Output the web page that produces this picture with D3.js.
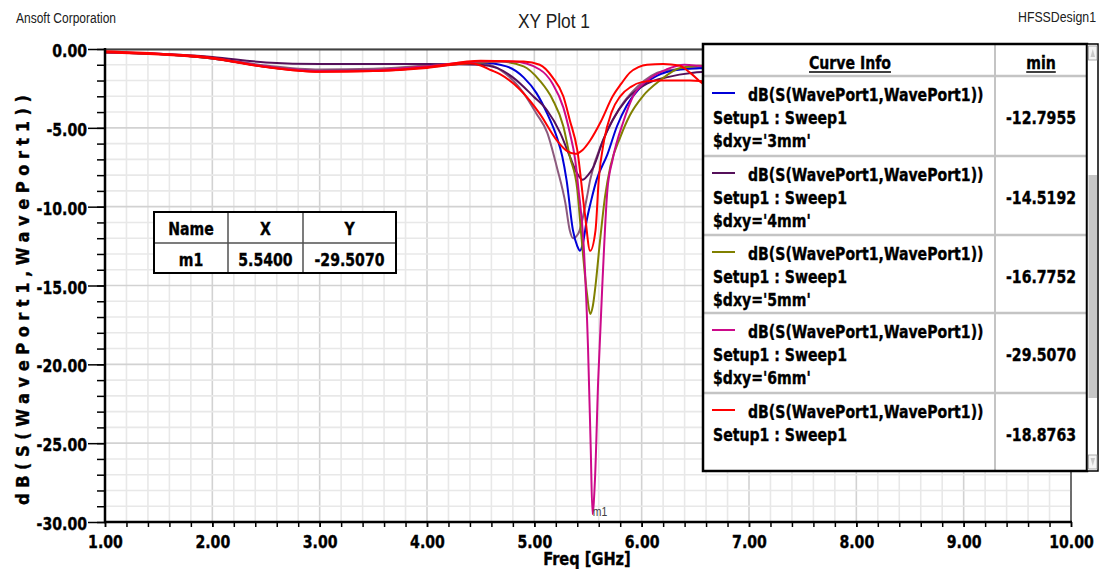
<!DOCTYPE html>
<html><head><meta charset="utf-8">
<script src="https://cdn.jsdelivr.net/npm/d3@7"></script>
<style>body{margin:0;background:#fff}svg{display:block}</style>
</head><body>
<svg id="c" width="1099" height="569"></svg>
<script>
// ---------- data ----------
const freqBlue = [1.0,1.5,2.0,2.5,3.0,3.5,4.0,4.5,4.74,4.9,5.02,5.12,5.21,5.26,5.30,5.36,5.40,5.425,5.45,5.49,5.53,5.58,5.68,5.77,5.86,5.98,6.14,6.36,6.6,7.0,8.0,9.0,10.0];
const dbBlue   = [-0.2,-0.32,-0.6,-1.12,-1.4,-1.35,-1.15,-0.85,-1.1,-1.8,-2.8,-4.1,-5.6,-6.8,-8.3,-11.5,-12.5,-12.8,-12.4,-10.8,-9.6,-8.3,-6.7,-4.9,-3.6,-2.5,-1.7,-1.3,-1.2,-1.1,-1.0,-1.0,-1.0];

const freqPurple = [1.0,1.5,2.0,2.5,3.0,3.5,4.0,4.5,4.65,4.8,4.99,5.12,5.24,5.33,5.40,5.45,5.50,5.55,5.64,5.73,5.86,6.05,6.23,6.48,6.6,7.0,8.0,10.0];
const dbPurple   = [-0.2,-0.3,-0.5,-0.85,-0.95,-0.95,-0.95,-1.0,-1.2,-1.8,-3.0,-3.9,-5.3,-6.8,-7.9,-8.3,-8.0,-7.5,-5.8,-4.5,-3.2,-2.2,-1.8,-1.5,-1.45,-1.3,-1.2,-1.2];

const freqMauve = [1.0,1.5,2.0,2.5,3.0,3.5,4.0,4.5,4.7,4.9,5.02,5.12,5.21,5.29,5.33,5.36,5.41,5.49,5.52,5.64,5.80,5.96,6.2,6.54,7.0,10.0];
const dbMauve   = [-0.2,-0.32,-0.58,-1.05,-1.3,-1.25,-1.05,-0.9,-1.4,-2.8,-4.1,-5.3,-7.5,-9.8,-11.5,-12.0,-11.7,-9.4,-8.3,-5.8,-3.7,-2.4,-1.4,-1.2,-1.1,-1.0];

const freqOlive = [1.0,1.5,2.0,2.5,3.0,3.5,4.0,4.5,4.68,4.9,5.05,5.17,5.27,5.33,5.40,5.44,5.49,5.52,5.545,5.57,5.61,5.66,5.71,5.80,5.89,6.01,6.17,6.36,6.6,7.0,10.0];
const dbOlive   = [-0.2,-0.32,-0.6,-1.1,-1.4,-1.35,-1.1,-0.85,-0.8,-1.1,-2.0,-3.2,-4.9,-6.8,-8.9,-12.0,-15.5,-16.8,-16.3,-15.0,-12.3,-9.3,-7.4,-5.6,-4.2,-3.0,-2.0,-1.2,-1.05,-1.0,-0.9];

const freqMagenta = [1.0,1.5,2.0,2.5,3.0,3.5,4.0,4.5,4.8,5.05,5.17,5.27,5.33,5.38,5.41,5.46,5.50,5.525,5.542,5.565,5.595,5.636,5.68,5.73,5.83,5.92,6.05,6.23,6.4,6.6,7.0,10.0];
const dbMagenta   = [-0.2,-0.3,-0.58,-1.1,-1.4,-1.35,-1.1,-0.8,-0.8,-1.3,-2.2,-3.7,-5.3,-7.0,-8.8,-12.5,-18.9,-25.2,-29.5,-27.3,-21.0,-14.6,-9.0,-7.0,-4.6,-3.0,-2.0,-1.3,-1.0,-1.1,-1.05,-1.0];

const freqRedA = [1.0,1.5,2.0,2.5,3.0,3.5,4.0,4.5,4.9,5.05,5.17,5.27,5.33,5.40,5.47,5.52,5.57,5.60,5.65,5.72,5.80,5.90,6.0,6.15,6.45,6.6,7.0,10.0];
const dbRedA   = [-0.15,-0.3,-0.55,-1.15,-1.45,-1.4,-1.15,-0.75,-0.8,-1.0,-1.8,-3.0,-4.5,-6.4,-10.4,-12.8,-11.5,-8.3,-5.8,-4.0,-3.0,-2.4,-2.1,-2.0,-2.0,-2.05,-2.1,-2.0];

const freqRedB = [1.0,1.5,2.0,2.5,3.0,3.5,4.0,4.4,4.5,4.6,4.68,4.87,5.05,5.21,5.30,5.38,5.45,5.52,5.62,5.73,5.81,5.89,5.97,6.05,6.2,6.35,6.45,6.57,6.7,7.0,10.0];
const dbRedB   = [-0.2,-0.35,-0.6,-1.15,-1.45,-1.4,-1.2,-0.9,-1.05,-1.35,-1.6,-2.6,-4.1,-5.8,-6.45,-6.65,-6.4,-5.8,-4.6,-3.0,-2.2,-1.5,-1.15,-1.0,-0.95,-1.05,-1.5,-2.2,-2.6,-2.8,-2.5];

const xTicks = [1,2,3,4,5,6,7,8,9,10];
const yTicks = [0,-5,-10,-15,-20,-25,-30];

const legendTrace = "dB(S(WavePort1,WavePort1))";
const legendSetup = "Setup1 : Sweep1";
const legendVars  = ["$dxy='3mm'","$dxy='4mm'","$dxy='5mm'","$dxy='6mm'",""];
const legendMins  = ["-12.7955","-14.5192","-16.7752","-29.5070","-18.8763"];

const markerHeader = ["Name","X","Y"];
const markerRow    = ["m1","5.5400","-29.5070"];
const markerFreq = 5.54, markerDb = -29.507;

// ---------- styles ----------
const curves = [
  {f:freqMauve, v:dbMauve, color:"#8c5a7e"},
  {f:freqBlue, v:dbBlue, color:"#0000d8"},
  {f:freqPurple, v:dbPurple, color:"#55105a"},
  {f:freqOlive, v:dbOlive, color:"#808000"},
  {f:freqMagenta, v:dbMagenta, color:"#cc0a8a"},
  {f:freqRedA, v:dbRedA, color:"#ff0000"},
  {f:freqRedB, v:dbRedB, color:"#ff0000"}
];
const legendColors = ["#0000d8","#55105a","#808000","#cc0a8a","#ff0000"];

const BOLD = "'DejaVu Sans Condensed','DejaVu Sans',sans-serif";
const SQ = 0.87;
function squeeze(sel,k){
  sel.each(function(){
    const w=this.getComputedTextLength();
    this.setAttribute("textLength",(w*k).toFixed(2));
    this.setAttribute("lengthAdjust","spacingAndGlyphs");
  });
}
function heavy(sel){ sel.attr("stroke","#000").attr("stroke-width",0.35).attr("fill","#000"); }

const svg = d3.select("#c");
const L=105,R=1071,T=49,B=522;
const x = d3.scaleLinear().domain([1,10]).range([L,R]);
const y = d3.scaleLinear().domain([-30,0]).range([B,T]);

// grid
const minorX = d3.range(1,10.0001,0.2), minorY = d3.range(-30,0.0001,1);
const g = svg.append("g");
g.selectAll(".mx").data(minorX).enter().append("line")
  .attr("x1",d=>x(d)).attr("x2",d=>x(d)).attr("y1",T).attr("y2",B)
  .attr("stroke",d=>Math.abs(d-Math.round(d))<1e-6?"#d2d2d2":"#e8e8e8").attr("stroke-width",1.6);
g.selectAll(".my").data(minorY).enter().append("line")
  .attr("y1",d=>y(d)).attr("y2",d=>y(d)).attr("x1",L).attr("x2",R)
  .attr("stroke",d=>Math.round(d)%5===0?"#d2d2d2":"#e8e8e8").attr("stroke-width",1.6);

// frame top/right
svg.append("line").attr("x1",L).attr("x2",R).attr("y1",T+0.5).attr("y2",T+0.5).attr("stroke","#404040").attr("stroke-width",2);
svg.append("line").attr("x1",R).attr("x2",R).attr("y1",T).attr("y2",B).attr("stroke","#000").attr("stroke-width",1);

// curves
svg.append("clipPath").attr("id","pc").append("rect").attr("x",L).attr("y",T).attr("width",R-L).attr("height",B-T+4);
const line = d3.line().x(d=>x(d[0])).y(d=>y(d[1])).curve(d3.curveMonotoneX);
const cg = svg.append("g").attr("clip-path","url(#pc)");
curves.forEach(c=>{
  cg.append("path").datum(c.f.map((f,i)=>[f,c.v[i]]))
    .attr("d",line).attr("fill","none").attr("stroke",c.color).attr("stroke-width",2).attr("stroke-linejoin","round");
});

// marker label
svg.append("text").attr("x",x(markerFreq)+0.5).attr("y",y(markerDb)+1.5)
  .attr("font-family","'Liberation Sans',Arial,sans-serif").attr("font-size",13).attr("fill","#404040")
  .text("m1").call(squeeze,0.8);

// axes
const fmt = v=>v.toFixed(2);
const ya = svg.append("g").attr("transform",`translate(${L},0)`)
  .call(d3.axisLeft(y).tickValues(minorY).tickSize(8).tickFormat(""));
ya.select(".domain").remove();
const yb = svg.append("g").attr("transform",`translate(${L},0)`)
  .call(d3.axisLeft(y).tickValues(yTicks).tickSize(17).tickPadding(1).tickFormat(fmt));
yb.select(".domain").remove();
yb.selectAll("text").attr("font-family",BOLD).attr("font-weight","bold").attr("font-size",18).attr("dy","0.42em").call(heavy).call(squeeze,SQ);
svg.selectAll(".tick line").attr("stroke","#000").attr("stroke-width",1.5);

const xa = svg.append("g").attr("transform",`translate(0,${B})`)
  .call(d3.axisBottom(x).tickValues(minorX).tickSize(5).tickFormat(""));
xa.select(".domain").remove();
const xb = svg.append("g").attr("transform",`translate(0,${B})`)
  .call(d3.axisBottom(x).tickValues(xTicks).tickSize(5).tickPadding(8).tickFormat(fmt));
xb.select(".domain").remove();
xb.selectAll("text").attr("font-family",BOLD).attr("font-weight","bold").attr("font-size",18).call(heavy).call(squeeze,SQ);
svg.selectAll(".tick line").attr("stroke","#000").attr("stroke-width",1.5);

svg.append("line").attr("x1",L).attr("x2",L).attr("y1",T-1).attr("y2",B+1).attr("stroke","#000").attr("stroke-width",2.5);
svg.append("line").attr("x1",L-1).attr("x2",R+1).attr("y1",B).attr("y2",B).attr("stroke","#000").attr("stroke-width",2.5);

// axis titles
svg.append("text").attr("x",587).attr("y",565).attr("text-anchor","middle")
  .attr("font-family",BOLD).attr("font-weight","bold").attr("font-size",18).text("Freq [GHz]").call(heavy).call(squeeze,0.9);
svg.append("text").attr("transform","translate(29,300) rotate(-90)").attr("text-anchor","middle")
  .attr("font-family",BOLD).attr("font-weight","bold").attr("font-size",18).call(heavy)
  .attr("textLength",410).attr("lengthAdjust","spacing").text("dB(S(WavePort1,WavePort1))");

// header texts (narrow look via horizontal scale transform)
const SANS="'Liberation Sans',Arial,sans-serif";
function narrowText(txt,x0,y0,size,target,anchor){
  const t=svg.append("text").attr("font-family",SANS).attr("font-size",size).attr("fill","#202020").attr("text-anchor",anchor).text(txt);
  const w=t.node().getComputedTextLength();
  t.attr("transform",`translate(${x0},${y0}) scale(${(target/w).toFixed(3)},1)`);
}
narrowText("Ansoft Corporation",16,23,15,100,"start");
narrowText("XY Plot 1",554,28,20,72,"middle");
narrowText("HFSSDesign1",1096,22,15,78,"end");

// marker table
const mt = svg.append("g");
const colX=[154,228,303,396], rowY=[212,243,273];
mt.append("rect").attr("x",colX[0]).attr("y",rowY[0]).attr("width",colX[3]-colX[0]).attr("height",rowY[2]-rowY[0]).attr("fill","#fff").attr("stroke","none");
[colX[1],colX[2]].forEach(cx=>mt.append("line").attr("x1",cx).attr("x2",cx).attr("y1",rowY[0]).attr("y2",rowY[2]).attr("stroke","#505050").attr("stroke-width",1.5));
mt.append("line").attr("x1",colX[0]).attr("x2",colX[3]).attr("y1",rowY[1]).attr("y2",rowY[1]).attr("stroke","#505050").attr("stroke-width",1.5);
mt.append("rect").attr("x",colX[0]).attr("y",rowY[0]).attr("width",colX[3]-colX[0]).attr("height",rowY[2]-rowY[0]).attr("fill","none").attr("stroke","#000").attr("stroke-width",2);
[markerHeader,markerRow].forEach((row,ri)=>{
  row.forEach((t,ci)=>{
    mt.append("text").attr("x",(colX[ci]+colX[ci+1])/2).attr("y",ri===0?235:266).attr("text-anchor","middle")
      .attr("font-family",BOLD).attr("font-weight","bold").attr("font-size",18).text(t).call(heavy).call(squeeze,SQ);
  });
});

// legend
const lg = svg.append("g");
const LX0=703, LX1=1087, LY0=44, LY1=471, CSEP=995;
const rowTops=[76,156,235,313,393];
lg.append("rect").attr("x",LX0).attr("y",LY0).attr("width",LX1-LX0).attr("height",LY1-LY0).attr("fill","#fff");
lg.append("line").attr("x1",CSEP).attr("x2",CSEP).attr("y1",LY0).attr("y2",LY1).attr("stroke","#c4c4c4").attr("stroke-width",2);
rowTops.forEach(t=>lg.append("line").attr("x1",LX0).attr("x2",LX1).attr("y1",t).attr("y2",t).attr("stroke","#c4c4c4").attr("stroke-width",2.5));
function hdr(t,cx){
  const el=lg.append("text").attr("x",cx).attr("y",69).attr("text-anchor","middle")
    .attr("font-family",BOLD).attr("font-weight","bold").attr("font-size",18).text(t).call(heavy);
  const w=el.node().getComputedTextLength()*SQ; el.call(squeeze,SQ);
  lg.append("line").attr("x1",cx-w/2).attr("x2",cx+w/2).attr("y1",72).attr("y2",72).attr("stroke","#000").attr("stroke-width",1.5);
}
hdr("Curve Info",850); hdr("min",1041);
legendMins.forEach((m,i)=>{
  const t=rowTops[i];
  lg.append("line").attr("x1",712).attr("x2",735).attr("y1",t+17).attr("y2",t+17).attr("stroke",legendColors[i]).attr("stroke-width",2);
  lg.append("text").attr("x",748).attr("y",t+24.5).attr("font-family",BOLD).attr("font-weight","bold").attr("font-size",18).text(legendTrace).call(heavy).call(squeeze,SQ);
  lg.append("text").attr("x",713).attr("y",t+48).attr("font-family",BOLD).attr("font-weight","bold").attr("font-size",18).text(legendSetup).call(heavy).call(squeeze,SQ);
  if(legendVars[i]) lg.append("text").attr("x",713).attr("y",t+70.5).attr("font-family",BOLD).attr("font-weight","bold").attr("font-size",18).text(legendVars[i]).call(heavy).call(squeeze,SQ);
  lg.append("text").attr("x",1041).attr("y",t+48).attr("text-anchor","middle").attr("font-family",BOLD).attr("font-weight","bold").attr("font-size",18).text(m).call(heavy).call(squeeze,SQ);
});
lg.append("rect").attr("x",LX0).attr("y",LY0).attr("width",LX1-LX0).attr("height",LY1-LY0).attr("fill","none").attr("stroke","#000").attr("stroke-width",2.5);
// scrollbar
const sb = svg.append("g");
sb.append("rect").attr("x",1087).attr("y",44).attr("width",11).attr("height",427).attr("fill","#fff").attr("stroke","#000").attr("stroke-width",1.5);
sb.append("rect").attr("x",1088.5).attr("y",46).attr("width",8.5).attr("height",14).attr("fill","#f4f4f4").attr("stroke","#999").attr("stroke-width",0.8);
sb.append("path").attr("d","M1090.5,57 L1092.8,49 L1095,57 Z").attr("fill","#c8c8c8");
sb.append("rect").attr("x",1088.5).attr("y",175).attr("width",8.5).attr("height",223).attr("fill","#c6c6c6");
sb.append("rect").attr("x",1088.5).attr("y",455).attr("width",8.5).attr("height",14).attr("fill","#f4f4f4").attr("stroke","#999").attr("stroke-width",0.8);
sb.append("path").attr("d","M1090.5,458 L1092.8,466 L1095,458 Z").attr("fill","#c8c8c8");
</script>
</body></html>
